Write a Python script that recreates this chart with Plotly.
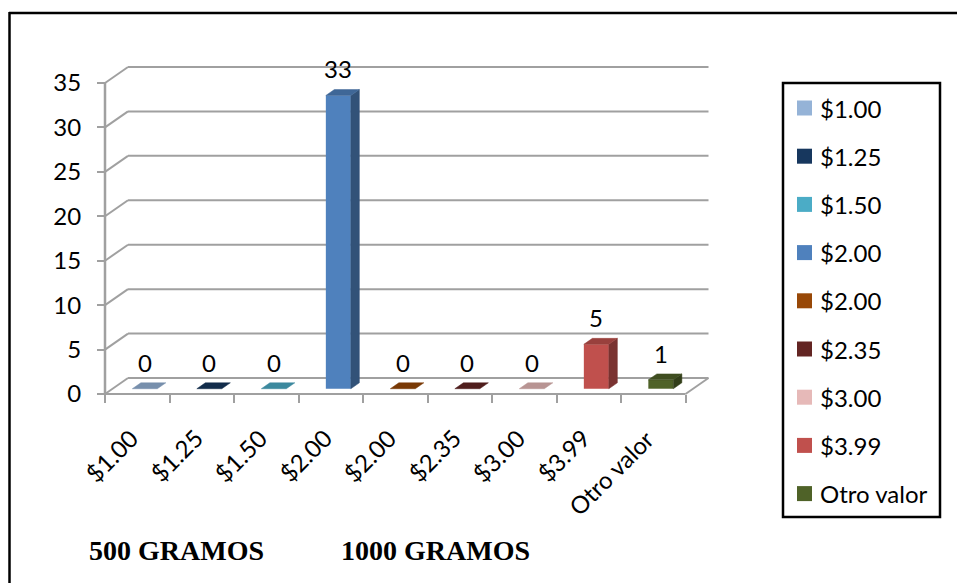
import plotly.graph_objects as go

# ---- data -------------------------------------------------------------
categories = ["$1.00", "$1.25", "$1.50", "$2.00", "$2.00", "$2.35", "$3.00", "$3.99", "Otro valor"]
counts = [0, 0, 0, 33, 0, 0, 0, 5, 1]
colors = ["#95B3D7", "#17375E", "#4BACC6", "#4F81BD", "#984807",
          "#632523", "#E6B9B8", "#C0504D", "#4F6228"]
y_ticks = [0, 5, 10, 15, 20, 25, 30, 35]
group_labels = ["500 GRAMOS", "1000 GRAMOS"]

# ---- layout constants (pixels) ----------------------------------------
W, H = 957, 583
AX_X, AX_Y = 105, 394          # front corner of the value axis
CAT_PX, UNIT_PX = 64.5, 8.886  # one category / one unit in pixels
DEPTH_X = 23 / CAT_PX          # floor depth, in category units
DEPTH_Y = 16 / UNIT_PX         # floor depth, in value units
BAR_PLANE = 0.33               # bars sit this far into the depth
BAR_DEPTH = 0.37               # bar thickness as a share of the depth
BAR_W = 25 / CAT_PX
GRID = "#A0A0A0"
FONT = "Lato, 'Open Sans', sans-serif"
FS = 24
N = len(categories)


def shade(hex_color, k):
    h = hex_color.lstrip("#")
    r, g, b = (int(h[i:i + 2], 16) for i in (0, 2, 4))
    return "#%02X%02X%02X" % (int(r * k), int(g * k), int(b * k))


fig = go.Figure()
shapes = []
annotations = []

# back wall gridlines with their diagonal connectors
for v in y_ticks:
    shapes.append(dict(type="line", xref="x", yref="y", layer="below",
                       x0=0, y0=v, x1=DEPTH_X, y1=v + DEPTH_Y,
                       line=dict(color=GRID, width=2)))
    shapes.append(dict(type="line", xref="x", yref="y", layer="below",
                       x0=DEPTH_X, y0=v + DEPTH_Y, x1=N + DEPTH_X, y1=v + DEPTH_Y,
                       line=dict(color=GRID, width=2)))
# floor front and right edges, value axis line
shapes.append(dict(type="line", xref="x", yref="y", layer="below",
                   x0=0, y0=0, x1=N, y1=0, line=dict(color=GRID, width=2)))
shapes.append(dict(type="line", xref="x", yref="y", layer="below",
                   x0=N, y0=0, x1=N + DEPTH_X, y1=DEPTH_Y, line=dict(color=GRID, width=2)))
shapes.append(dict(type="line", xref="x", yref="y", layer="below",
                   x0=0, y0=0, x1=0, y1=max(y_ticks), line=dict(color=GRID, width=2.5)))

# 3D bars: front face as a bar, top and side faces as filled polygons
base = BAR_PLANE * DEPTH_Y
ddx, ddy = BAR_DEPTH * DEPTH_X, BAR_DEPTH * DEPTH_Y
for i, (cat, v, c) in enumerate(zip(categories, counts, colors)):
    xc = i + 0.5 + BAR_PLANE * DEPTH_X
    x0, x1 = xc - BAR_W / 2, xc + BAR_W / 2
    top = base + v
    fig.add_trace(go.Bar(x=[xc], y=[v], base=[base], width=[BAR_W], name=cat,
                         marker=dict(color=c, line=dict(width=0)),
                         showlegend=False, hoverinfo="skip"))
    if v > 0:
        fig.add_trace(go.Scatter(
            x=[x1, x1 + ddx, x1 + ddx, x1, x1],
            y=[base, base + ddy, top + ddy, top, base],
            mode="lines", fill="toself", fillcolor=shade(c, 0.64),
            line=dict(width=0.5, color=shade(c, 0.64)),
            showlegend=False, hoverinfo="skip"))
    fig.add_trace(go.Scatter(
        x=[x0, x1, x1 + ddx, x0 + ddx, x0],
        y=[top, top, top + ddy, top + ddy, top],
        mode="lines", fill="toself", fillcolor=shade(c, 0.8),
        line=dict(width=0.5, color=shade(c, 0.8)),
        showlegend=False, hoverinfo="skip"))
    annotations.append(dict(x=xc, y=top, xref="x", yref="y", text=str(v),
                            showarrow=False, yanchor="bottom", yshift=10,
                            font=dict(family=FONT, size=FS, color="black")))
    # rotated category label under the floor
    annotations.append(dict(x=i + 0.5, y=0, xref="x", yref="y", text=cat,
                            showarrow=False, textangle=-45,
                            xanchor="right", yanchor="top", xshift=9, yshift=-27,
                            font=dict(family=FONT, size=FS, color="black")))

# legend box
LX0, LX1, LY0, LY1 = 783, 940, 83, 517
shapes.append(dict(type="rect", xref="paper", yref="paper",
                   x0=LX0 / W, x1=LX1 / W, y0=1 - LY0 / H, y1=1 - LY1 / H,
                   line=dict(color="black", width=2.5), fillcolor="white", layer="above"))
for i, (cat, c) in enumerate(zip(categories, colors)):
    cy = 108 + 48.2 * i
    shapes.append(dict(type="rect", xref="paper", yref="paper",
                       x0=797 / W, x1=812 / W, y0=1 - (cy - 7.5) / H, y1=1 - (cy + 7.5) / H,
                       line=dict(width=0), fillcolor=c, layer="above"))
    annotations.append(dict(x=818 / W, y=1 - cy / H, xref="paper", yref="paper",
                            text=cat, showarrow=False, xanchor="left", yanchor="middle",
                            font=dict(family=FONT, size=FS, color="black")))

# group captions under the chart
for txt, gx in zip(group_labels, [87, 339]):
    annotations.append(dict(x=gx / W, y=1 - 550 / H, xref="paper", yref="paper",
                            text="<b>%s</b>" % txt, showarrow=False,
                            xanchor="left", yanchor="middle",
                            font=dict(family="'Liberation Serif', 'Times New Roman', serif",
                                      size=28, color="black")))

# outer frame
shapes.append(dict(type="line", xref="paper", yref="paper",
                   x0=9.5 / W, x1=9.5 / W, y0=1 - 12 / H, y1=0,
                   line=dict(color="black", width=2.5)))
shapes.append(dict(type="line", xref="paper", yref="paper",
                   x0=9 / W, x1=1, y0=1 - 13 / H, y1=1 - 13 / H,
                   line=dict(color="black", width=2.5)))

fig.update_layout(
    width=W, height=H,
    margin=dict(l=0, r=0, t=0, b=0),
    paper_bgcolor="white", plot_bgcolor="white",
    barmode="overlay",
    showlegend=False,
    shapes=shapes,
    annotations=annotations,
    xaxis=dict(range=[-AX_X / CAT_PX, (W - AX_X) / CAT_PX], domain=[0, 1],
               anchor="free", position=1 - AX_Y / H,
               tickmode="array", tickvals=list(range(N + 1)),
               ticks="outside", ticklen=8, tickwidth=2, tickcolor=GRID,
               showticklabels=False, showgrid=False, zeroline=False,
               showline=False, fixedrange=True),
    yaxis=dict(range=[(AX_Y - H) / UNIT_PX, AX_Y / UNIT_PX], domain=[0, 1],
               anchor="free", position=AX_X / W,
               tickmode="array", tickvals=y_ticks,
               ticks="outside", ticklen=8, tickwidth=2, tickcolor=GRID,
               ticklabelstandoff=11,
               tickfont=dict(family=FONT, size=FS, color="black"),
               showgrid=False, zeroline=False, showline=False, fixedrange=True),
)

fig.write_html("out.html")
